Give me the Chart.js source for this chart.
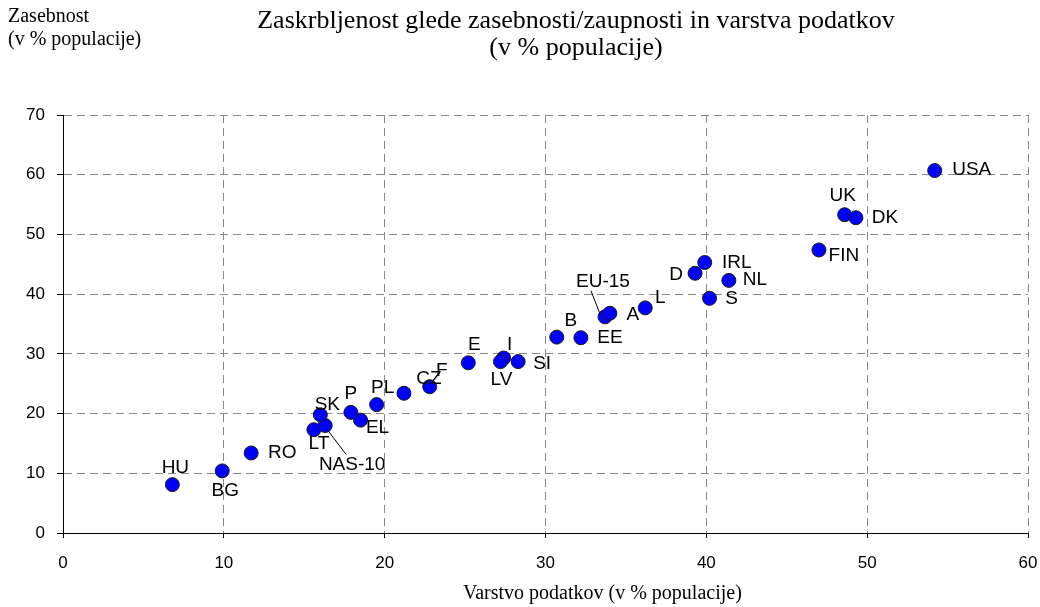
<!DOCTYPE html>
<html>
<head>
<meta charset="utf-8">
<script src="https://cdn.jsdelivr.net/npm/chart.js@4/dist/chart.umd.min.js"></script>
<style>
  html, body { margin: 0; padding: 0; background: #fff; }
  canvas { display: block; }
</style>
</head>
<body>
<canvas id="chart" width="1040" height="607"></canvas>
<script>
// data
const countries = ['HU', 'BG', 'RO', 'LT', 'NAS-10', 'SK', 'P', 'EL', 'PL', 'CZ', 'F', 'E', 'I', 'LV', 'SI',
    'B', 'EE', 'EU-15', 'A', 'L', 'D', 'IRL', 'NL', 'S', 'FIN', 'UK', 'DK', 'USA'];
const dataProtection = [6.8, 9.9, 11.7, 15.6, 16.3, 16.0, 17.9, 18.5, 19.5, 21.2, 22.8, 25.2, 27.4, 27.2, 28.3,
    30.7, 32.2, 33.7, 34.0, 36.2, 39.3, 39.9, 41.4, 40.2, 47.0, 48.6, 49.3, 54.2];
const privacy = [8.1, 10.4, 13.4, 17.3, 18.0, 19.8, 20.2, 18.9, 21.5, 23.4, 24.5, 28.5, 29.3, 28.7, 28.7,
    32.8, 32.7, 36.2, 36.8, 37.7, 43.5, 45.3, 42.3, 39.3, 47.4, 53.3, 52.8, 60.7];
const xTicks = [0, 10, 20, 30, 40, 50, 60];
const yTicks = [0, 10, 20, 30, 40, 50, 60, 70];

// label placement (pixels relative to the marker centre)
const labelOffset = {
    'HU': [3, -17], 'BG': [3, 20], 'RO': [31, 0], 'LT': [5, 14], 'NAS-10': [27, 39],
    'SK': [7, -10], 'P': [0, -19], 'EL': [17, 8], 'PL': [6, -17], 'CZ': [25, -15],
    'F': [12, -16], 'E': [6, -18], 'I': [6, -13], 'LV': [1, 18], 'SI': [24, 2],
    'B': [14, -16], 'EE': [29, 0], 'EU-15': [-2, -35], 'A': [23, 2], 'L': [15, -10],
    'D': [-19, 2], 'IRL': [32, 0], 'NL': [26, -1], 'S': [22, 0], 'FIN': [25, 6],
    'UK': [-2, -19], 'DK': [29, 0], 'USA': [37, -1]
};
const leaders = {
    'EU-15': [-14, -26, -5, -3],
    'NAS-10': [2, 4, 21, 29]
};

const points = countries.map(function (c, i) {
    return { x: dataProtection[i], y: privacy[i], label: c };
});

const labelPlugin = {
    id: 'pointLabels',
    afterDatasetsDraw: function (chart) {
        const ctx = chart.ctx;
        const meta = chart.getDatasetMeta(0);
        ctx.save();
        ctx.fillStyle = '#000';
        ctx.strokeStyle = '#000';
        ctx.lineWidth = 1;
        ctx.font = '19px "Liberation Sans", Arial, sans-serif';
        ctx.textAlign = 'center';
        ctx.textBaseline = 'middle';
        meta.data.forEach(function (el, i) {
            const name = countries[i];
            const off = labelOffset[name] || [14, 0];
            const ln = leaders[name];
            if (ln) {
                ctx.beginPath();
                ctx.moveTo(el.x + ln[0], el.y + ln[1]);
                ctx.lineTo(el.x + ln[2], el.y + ln[3]);
                ctx.stroke();
            }
            ctx.fillText(name, el.x + off[0], el.y + off[1]);
        });
        ctx.restore();
    }
};

const titlePlugin = {
    id: 'titles',
    afterDraw: function (chart) {
        const ctx = chart.ctx;
        ctx.save();
        ctx.fillStyle = '#000';
        ctx.textBaseline = 'middle';
        ctx.font = '26px "Liberation Serif", "Times New Roman", serif';
        ctx.textAlign = 'center';
        ctx.fillText('Zaskrbljenost glede zasebnosti/zaupnosti in varstva podatkov', 576, 21);
        ctx.fillText('(v % populacije)', 576, 48);
        ctx.font = '20px "Liberation Serif", "Times New Roman", serif';
        ctx.textAlign = 'left';
        ctx.fillText('Zasebnost', 8, 17);
        ctx.fillText('(v % populacije)', 8, 40);
        ctx.fillText('Varstvo podatkov (v % populacije)', 463, 594);
        ctx.restore();
    }
};

new Chart(document.getElementById('chart'), {
    type: 'scatter',
    data: {
        datasets: [{
            data: points,
            backgroundColor: '#0000ff',
            borderColor: '#1a1a1a',
            borderWidth: 1,
            pointRadius: 7,
            pointHoverRadius: 7,
        }],
    },
    options: {
        responsive: false,
        animation: false,
        layout: {
            padding: { left: 0, right: 12, top: 115, bottom: 0 },
        },
        plugins: {
            legend: { display: false },
            tooltip: { enabled: false },
        },
        scales: {
            x: {
                type: 'linear',
                min: 0,
                max: 60,
                afterBuildTicks: function (scale) {
                    scale.ticks = xTicks.map(function (v) { return { value: v }; });
                },
                afterFit: function (scale) {
                    scale.height = 74;
                    scale.paddingLeft = 0;
                    scale.paddingRight = 0;
                },
                grid: {
                    color: '#888',
                    tickColor: '#000',
                    tickLength: 5,
                    lineWidth: 1,
                },
                border: { display: true, color: '#000', width: 1, dash: [8, 5] },
                ticks: {
                    color: '#000',
                    padding: 15,
                    font: { family: '"Liberation Sans", Arial, sans-serif', size: 17 },
                },
            },
            y: {
                type: 'linear',
                min: 0,
                max: 70,
                afterBuildTicks: function (scale) {
                    scale.ticks = yTicks.map(function (v) { return { value: v }; });
                },
                afterFit: function (scale) {
                    scale.width = 63;
                    scale.paddingTop = 0;
                    scale.paddingBottom = 0;
                },
                grid: {
                    color: '#888',
                    tickColor: '#000',
                    tickLength: 6,
                    lineWidth: 1,
                },
                border: { display: true, color: '#000', width: 1, dash: [8, 5] },
                ticks: {
                    color: '#000',
                    padding: 12,
                    font: { family: '"Liberation Sans", Arial, sans-serif', size: 17 },
                },
            },
        },
    },
    plugins: [labelPlugin, titlePlugin],
});
</script>
</body>
</html>
